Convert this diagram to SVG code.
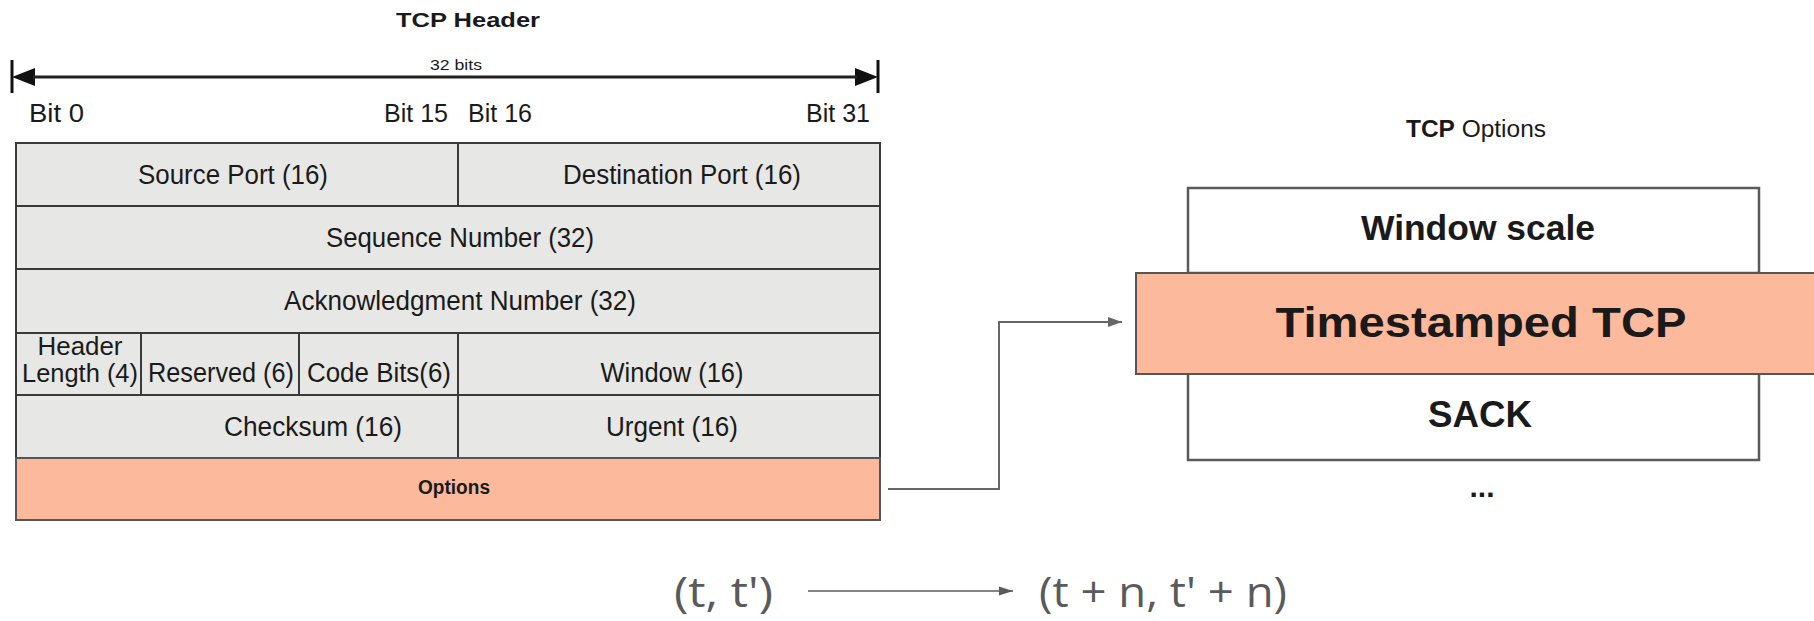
<svg xmlns="http://www.w3.org/2000/svg" width="1814" height="621" viewBox="0 0 1814 621">
  <style>
    .t { font-family: "Liberation Sans", Arial, sans-serif; fill: #1a1a1a; }
    .b { font-weight: bold; }
    .f { font-size: 27px; }
    .cell { fill: #e7e7e5; stroke: #3a3a3a; stroke-width: 2; }
    .hot { fill: #fcb99c; stroke: #555; stroke-width: 2; }
    .opt { fill: #ffffff; stroke: #5a5a5a; stroke-width: 2.5; }
    .math { font-family: "Open Sans", "Noto Sans", sans-serif; fill: #5a5a5a; font-size: 42px; }
  </style>
  <defs>
    <marker id="link" markerWidth="14" markerHeight="10" refX="14" refY="5" orient="auto" markerUnits="userSpaceOnUse">
      <path d="M0,0 L14,5 L0,10 Z" fill="#666"/>
    </marker>
    <marker id="map" markerWidth="14" markerHeight="10" refX="14" refY="5" orient="auto" markerUnits="userSpaceOnUse">
      <path d="M0,0.5 L14,5 L0,9.5 Z" fill="#5a5a5a"/>
    </marker>
  </defs>

  <!-- header title and bit ruler -->
  <g id="title">
    <text class="t b" x="468" y="27" font-size="21" text-anchor="middle" textLength="144" lengthAdjust="spacingAndGlyphs">TCP Header</text>
  </g>
  <g id="ruler">
    <line x1="12" y1="60" x2="12" y2="93" stroke="#111" stroke-width="3"/>
    <line x1="878" y1="60" x2="878" y2="93" stroke="#111" stroke-width="3"/>
    <path d="M12,77 L35,68 L35,86 Z" fill="#111"/>
    <path d="M878,77 L855,68 L855,86 Z" fill="#111"/>
    <line x1="33" y1="77" x2="857" y2="77" stroke="#222" stroke-width="3"/>
    <text class="t" x="456" y="70" font-size="15" text-anchor="middle" textLength="52" lengthAdjust="spacingAndGlyphs">32 bits</text>
    <text class="t" x="29" y="122" font-size="26" textLength="55" lengthAdjust="spacingAndGlyphs">Bit 0</text>
    <text class="t" x="448" y="122" font-size="26" text-anchor="end" textLength="64" lengthAdjust="spacingAndGlyphs">Bit 15</text>
    <text class="t" x="468" y="122" font-size="26" textLength="64" lengthAdjust="spacingAndGlyphs">Bit 16</text>
    <text class="t" x="870" y="122" font-size="26" text-anchor="end" textLength="64" lengthAdjust="spacingAndGlyphs">Bit 31</text>
  </g>

  <!-- header fields -->
  <g id="source-port">
    <rect class="cell" x="16" y="143" width="442" height="63"/>
    <text class="t f" x="233" y="184" text-anchor="middle" textLength="190" lengthAdjust="spacingAndGlyphs">Source Port (16)</text>
  </g>
  <g id="destination-port">
    <rect class="cell" x="458" y="143" width="422" height="63"/>
    <text class="t f" x="682" y="184" text-anchor="middle" textLength="238" lengthAdjust="spacingAndGlyphs">Destination Port (16)</text>
  </g>
  <g id="sequence-number">
    <rect class="cell" x="16" y="206" width="864" height="63"/>
    <text class="t f" x="460" y="247" text-anchor="middle" textLength="268" lengthAdjust="spacingAndGlyphs">Sequence Number (32)</text>
  </g>
  <g id="ack-number">
    <rect class="cell" x="16" y="269" width="864" height="64"/>
    <text class="t f" x="460" y="310" text-anchor="middle" textLength="352" lengthAdjust="spacingAndGlyphs">Acknowledgment Number (32)</text>
  </g>
  <g id="header-length">
    <rect class="cell" x="16" y="333" width="125" height="62"/>
    <text class="t" x="80" y="355" font-size="25" text-anchor="middle" textLength="85" lengthAdjust="spacingAndGlyphs">Header</text>
    <text class="t" x="80" y="382" font-size="25" text-anchor="middle" textLength="116" lengthAdjust="spacingAndGlyphs">Length (4)</text>
  </g>
  <g id="reserved">
    <rect class="cell" x="141" y="333" width="158" height="62"/>
    <text class="t f" x="221" y="382" text-anchor="middle" textLength="146" lengthAdjust="spacingAndGlyphs">Reserved (6)</text>
  </g>
  <g id="code-bits">
    <rect class="cell" x="299" y="333" width="159" height="62"/>
    <text class="t f" x="379" y="382" text-anchor="middle" textLength="144" lengthAdjust="spacingAndGlyphs">Code Bits(6)</text>
  </g>
  <g id="window">
    <rect class="cell" x="458" y="333" width="422" height="62"/>
    <text class="t f" x="672" y="382" text-anchor="middle" textLength="143" lengthAdjust="spacingAndGlyphs">Window (16)</text>
  </g>
  <g id="checksum">
    <rect class="cell" x="16" y="395" width="442" height="63"/>
    <text class="t f" x="313" y="436" text-anchor="middle" textLength="178" lengthAdjust="spacingAndGlyphs">Checksum (16)</text>
  </g>
  <g id="urgent">
    <rect class="cell" x="458" y="395" width="422" height="63"/>
    <text class="t f" x="672" y="436" text-anchor="middle" textLength="132" lengthAdjust="spacingAndGlyphs">Urgent (16)</text>
  </g>
  <g id="options">
    <rect class="hot" x="16" y="458" width="864" height="62"/>
    <text class="t b" x="454" y="494" font-size="20" text-anchor="middle" textLength="72" lengthAdjust="spacingAndGlyphs">Options</text>
  </g>

  <!-- option list -->
  <g id="options-title">
    <text class="t" x="1476" y="137" font-size="23" text-anchor="middle" textLength="140" lengthAdjust="spacingAndGlyphs"><tspan font-weight="bold">TCP</tspan> Options</text>
  </g>
  <g id="window-scale">
    <rect class="opt" x="1188" y="188" width="571" height="85"/>
    <text class="t b" x="1478" y="240" font-size="35" text-anchor="middle" textLength="234" lengthAdjust="spacingAndGlyphs" fill="#111">Window scale</text>
  </g>
  <g id="sack">
    <path class="opt" d="M1188,374 L1188,460 L1759,460 L1759,374"/>
    <text class="t b" x="1480" y="427" font-size="36" text-anchor="middle" textLength="104" lengthAdjust="spacingAndGlyphs" fill="#111">SACK</text>
  </g>
  <g id="timestamped-tcp">
    <rect class="hot" x="1136" y="273" width="690" height="101" stroke-width="2.5"/>
    <text class="t b" x="1481" y="337" font-size="43" text-anchor="middle" textLength="411" lengthAdjust="spacingAndGlyphs" fill="#111">Timestamped TCP</text>
  </g>
  <g id="more">
    <text class="t b" x="1482" y="497" font-size="30" text-anchor="middle" fill="#111">...</text>
  </g>

  <!-- timestamp mapping -->
  <g id="before">
    <text class="math" x="674" y="607" textLength="99" lengthAdjust="spacingAndGlyphs">(t, t')</text>
  </g>
  <g id="after">
    <text class="math" x="1039" y="607" textLength="248" lengthAdjust="spacingAndGlyphs">(t + n, t' + n)</text>
  </g>

  <g id="connectors" fill="none">
    <polyline points="888,489 999,489 999,322 1122,322" stroke="#666" stroke-width="2" marker-end="url(#link)"/>
    <line x1="808" y1="591" x2="1013" y2="591" stroke="#5a5a5a" stroke-width="1.6" marker-end="url(#map)"/>
  </g>
</svg>
